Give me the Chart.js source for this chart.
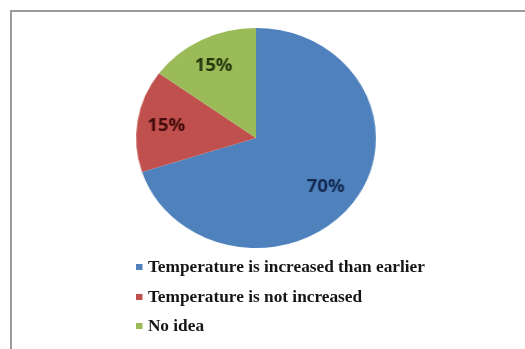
<!DOCTYPE html>
<html>
<head>
<meta charset="utf-8">
<script src="https://cdn.jsdelivr.net/npm/chart.js@4/dist/chart.umd.min.js"></script>
<style>
    body {
        margin: 0;
        background: #fff;
    }
    #frame {
        position: absolute;
        left: 10px;
        top: 10px;
        width: 520px;
        height: 345px;
        border-left: 2px solid #9a9a9a;
        border-top: 2px solid #9a9a9a;
    }
    #pie-box {
        position: absolute;
        left: 136px;
        top: 18px;
        width: 240px;
        height: 240px;
        transform: scaleX(1.09);
        transform-origin: center;
    }
    #legend {
        position: absolute;
        left: 136px;
        top: 257px;
        margin: 0;
        padding: 0;
        list-style: none;
        font-family: "Liberation Serif", "DejaVu Serif", serif;
        font-weight: bold;
        font-size: 16px;
        color: #151515;
        transform: scaleX(1.08);
        transform-origin: left;
    }
    #legend li {
        height: 29.5px;
        line-height: 20px;
        white-space: nowrap;
    }
    #legend .box {
        display: inline-block;
        width: 6px;
        height: 6px;
        margin-right: 5px;
        vertical-align: 2px;
    }
</style>
</head>
<body>
<div id="frame"></div>
<div id="pie-box"><canvas id="chart-pie"></canvas></div>
<ul id="legend"></ul>

<script>
const categorias = [
    "Temperature is increased than earlier",
    "Temperature is not increased",
    "No idea"
];
const porcentajes = [70, 15, 15];
const colores = ["#4F81BD", "#C0504D", "#9BBB59"];
const coloresTexto = ["#122850", "#420b0a", "#25360c"];

// Etiquetas de porcentaje dentro de cada sector
const etiquetasPlugin = {
    id: "etiquetas",
    afterDatasetsDraw(chart) {
        const ctx = chart.ctx;
        const meta = chart.getDatasetMeta(0);
        ctx.save();
        ctx.font = "bold 17px 'Open Sans', 'Liberation Sans', sans-serif";
        ctx.textAlign = "center";
        ctx.textBaseline = "middle";
        meta.data.forEach((arc, i) => {
            const p = arc.getProps(["x", "y", "startAngle", "endAngle", "outerRadius"], true);
            const medio = (p.startAngle + p.endAngle) / 2;
            const r = p.outerRadius * 0.74;
            ctx.fillStyle = coloresTexto[i];
            ctx.fillText(porcentajes[i] + "%", p.x + Math.cos(medio) * r - 2, p.y + Math.sin(medio) * r + 1);
        });
        ctx.restore();
    }
};

// Leyenda en lista vertical
const leyendaPlugin = {
    id: "leyenda",
    afterUpdate(chart) {
        const ul = document.getElementById("legend");
        ul.innerHTML = "";
        const items = chart.options.plugins.legend.labels.generateLabels(chart);
        items.forEach(item => {
            const li = document.createElement("li");
            const box = document.createElement("span");
            box.className = "box";
            box.style.background = item.fillStyle;
            li.appendChild(box);
            li.appendChild(document.createTextNode(item.text));
            ul.appendChild(li);
        });
    }
};

const ctx = document.getElementById("chart-pie").getContext("2d");

new Chart(ctx, {
    type: "pie",
    data: {
        labels: categorias,
        datasets: [{
            data: porcentajes,
            backgroundColor: colores,
            borderWidth: 0
        }]
    },
    options: {
        responsive: true,
        maintainAspectRatio: false,
        animation: false,
        layout: { padding: 10 },
        plugins: {
            legend: { display: false },
            tooltip: { enabled: false }
        }
    },
    plugins: [etiquetasPlugin, leyendaPlugin]
});
</script>
</body>
</html>
